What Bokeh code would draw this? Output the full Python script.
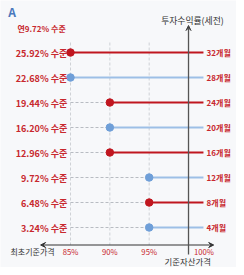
from bokeh.plotting import figure
from bokeh.models import Range1d, ColumnDataSource, Arrow, VeeHead
from bokeh.core.properties import value
from bokeh.embed import file_html
from bokeh.resources import INLINE

# ---- data ----
rate_labels = ["25.92% 수준", "22.68% 수준", "19.44% 수준", "16.20% 수준",
               "12.96% 수준", "9.72% 수준", "6.48% 수준", "3.24% 수준"]
month_labels = ["32개월", "28개월", "24개월", "20개월", "16개월", "12개월", "8개월", "4개월"]
barriers = [85, 85, 90, 90, 90, 95, 95, 95]
tick_values = [85, 90, 95]
tick_labels = ["85%", "90%", "95%"]
last_tick = 100
last_tick_label = "100%"
header = "연9.72% 수준"

RED = "#c0161f"
BLUE = "#6f9fd8"
BLUE_LINE = "#9dbfe6"
TXT_RED = "#c8282e"
FONT = value("Noto Sans CJK KR")

n = len(rate_labels)
rows = list(range(n))
colors = [RED if i % 2 == 0 else BLUE for i in rows]
line_colors = [RED if i % 2 == 0 else BLUE_LINE for i in rows]
LEFT = 85
END = 101.9
AXIS_Y = 7.7

p = figure(width=236, height=267, output_backend="svg", toolbar_location=None,
           x_range=Range1d(76.10, 106.10), y_range=Range1d(8.6, -2.08),
           min_border=0)
p.axis.visible = False
p.grid.visible = False
p.outline_line_color = None
p.background_fill_color = "#f7f8fa"
p.border_fill_color = "#f7f8fa"

# vertical grid lines
p.segment(x0=tick_values, x1=tick_values, y0=[-0.4] * 3, y1=[AXIS_Y] * 3,
          line_color="#cfd2d6", line_width=1, line_dash="3 2")

src = ColumnDataSource(dict(y=rows, b=barriers, left=[LEFT] * n, end=[END] * n,
                            c=colors, lc=line_colors))

# gray dashed lead-in
p.segment(x0="left", x1="b", y0="y", y1="y", source=src,
          line_color="#b8bcc2", line_width=1, line_dash="3 2")
# colored line
p.segment(x0="b", x1="end", y0="y", y1="y", source=src,
          line_color="lc", line_width=2.2)
p.scatter(x="b", y="y", source=src, size=7.5, fill_color="c", line_color="c")

# row labels
p.text(x=[LEFT - 0.4] * n, y=rows, text=rate_labels, text_align="right",
       text_baseline="middle", text_font=FONT, text_font_size="6.8pt",
       text_color=TXT_RED, text_font_style="bold")
p.text(x=[END + 0.4] * n, y=rows, text=month_labels, text_align="left",
       text_baseline="middle", text_font=FONT, text_font_size="6pt",
       text_color=TXT_RED, text_font_style="bold")

# axes arrows
p.add_layout(Arrow(start=VeeHead(size=5, line_color="#333", fill_color="#333"),
                   end=VeeHead(size=5, line_color="#333", fill_color="#333"),
                   x_start=81.2, x_end=103.2, y_start=AXIS_Y, y_end=AXIS_Y,
                   line_color="#333", line_width=1))
p.add_layout(Arrow(end=VeeHead(size=5, line_color="#444", fill_color="#444"),
                   x_start=last_tick, x_end=last_tick, y_start=8.08, y_end=-1.08,
                   line_color="#555", line_width=1.3))

# tick labels
p.text(x=tick_values, y=[7.97] * 3, text=tick_labels, text_align="center",
       text_baseline="middle", text_font=FONT, text_font_size="5.8pt",
       text_color=TXT_RED)
p.text(x=[last_tick + 0.7], y=[7.97], text=[last_tick_label], text_align="left",
       text_baseline="middle", text_font=FONT, text_font_size="5.8pt",
       text_color=TXT_RED)

p.text(x=[77.37], y=[7.97], text=["최초기준가격"], text_align="left",
       text_baseline="middle", text_font=FONT, text_font_size="6pt",
       text_color="#333333")
p.text(x=[99.9], y=[8.33], text=["기준자산가격"], text_align="center",
       text_baseline="middle", text_font=FONT, text_font_size="6.3pt",
       text_color="#333333")
p.text(x=[100.5], y=[-1.3], text=["투자수익률(세전)"], text_align="center",
       text_baseline="middle", text_font=FONT, text_font_size="6.6pt",
       text_color="#333333")
p.text(x=[77.1], y=[-1.66], text=["A"], text_align="left",
       text_baseline="middle", text_font=FONT, text_font_size="9pt",
       text_color="#4a78bd", text_font_style="bold")
p.text(x=[78.25], y=[-0.96], text=[header], text_align="left",
       text_baseline="middle", text_font=FONT, text_font_size="6pt",
       text_color=TXT_RED, text_font_style="bold")

open("out.html", "w").write(file_html(p, INLINE))
